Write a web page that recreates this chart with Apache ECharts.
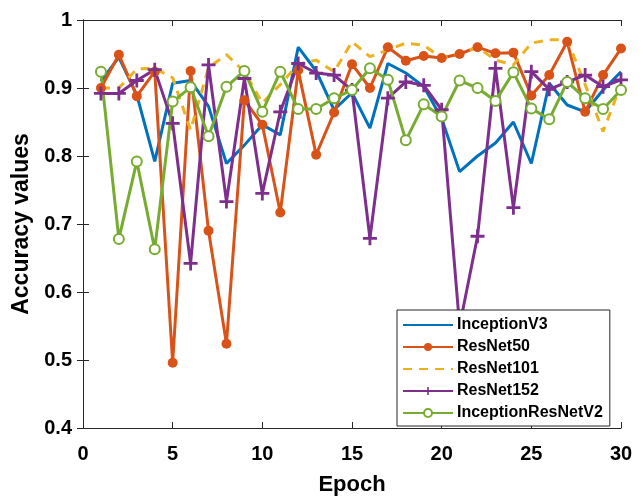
<!DOCTYPE html>
<html lang="en">
<head>
    <meta charset="UTF-8">
    <title>Accuracy per epoch</title>
    <script src="https://cdn.jsdelivr.net/npm/echarts@6/dist/echarts.min.js"></script>
    <style>
        html, body { margin: 0; padding: 0; background: #fff; }
        #main { width: 643px; height: 497px; }
    </style>
</head>
<body>
    <div id="main"></div>
    <script>
        // data
        var epochs = [1, 2, 3, 4, 5, 6, 7, 8, 9, 10, 11, 12, 13, 14, 15, 16, 17, 18, 19, 20, 21, 22, 23, 24, 25, 26, 27, 28, 29, 30];
        var inceptionV3 = [0.91, 0.945, 0.89, 0.792, 0.907, 0.911, 0.873, 0.789, 0.816, 0.846, 0.831, 0.96, 0.925, 0.868, 0.893, 0.841, 0.936, 0.922, 0.902, 0.855, 0.777, 0.80, 0.819, 0.85, 0.789, 0.907, 0.875, 0.865, 0.897, 0.924];
        var resNet50 = [0.9, 0.949, 0.888, 0.924, 0.496, 0.925, 0.690, 0.524, 0.882, 0.846, 0.717, 0.926, 0.802, 0.864, 0.935, 0.9, 0.96, 0.94, 0.947, 0.944, 0.95, 0.96, 0.951, 0.952, 0.889, 0.919, 0.968, 0.865, 0.919, 0.958];
        var resNet101 = [0.9, 0.9, 0.928, 0.929, 0.915, 0.838, 0.93, 0.949, 0.924, 0.878, 0.905, 0.935, 0.941, 0.924, 0.968, 0.946, 0.956, 0.966, 0.963, 0.944, 0.951, 0.96, 0.941, 0.934, 0.966, 0.971, 0.971, 0.905, 0.836, 0.905];
        var resNet152 = [0.892, 0.892, 0.911, 0.927, 0.848, 0.642, 0.934, 0.733, 0.914, 0.745, 0.865, 0.936, 0.922, 0.919, 0.897, 0.679, 0.885, 0.909, 0.904, 0.868, 0.55, 0.682, 0.929, 0.724, 0.924, 0.898, 0.909, 0.919, 0.902, 0.912];
        var inceptionResNetV2 = [0.924, 0.678, 0.792, 0.663, 0.880, 0.901, 0.829, 0.902, 0.925, 0.865, 0.924, 0.869, 0.869, 0.885, 0.897, 0.929, 0.912, 0.823, 0.876, 0.858, 0.911, 0.90, 0.881, 0.923, 0.870, 0.854, 0.909, 0.885, 0.869, 0.897];
        var seriesNames = ['InceptionV3', 'ResNet50', 'ResNet101', 'ResNet152', 'InceptionResNetV2'];

        var fontFam = '"Liberation Sans", Arial, Helvetica, sans-serif';
        var axisColor = '#262626';
        var plusPath = 'path://M4,0 H6 V4 H10 V6 H6 V10 H4 V6 H0 V4 H4 Z';

        function pairs(values) {
            return epochs.map(function (e, i) {
                return [e, values[i]];
            });
        }

        var myChart = echarts.init(document.getElementById('main'), null, { renderer: 'canvas' });

        // top / right axes only close the box
        var boxAxis = {
            axisLine: { show: true, lineStyle: { color: axisColor, width: 1 } },
            axisTick: { show: true, inside: true, length: 6, lineStyle: { color: axisColor } },
            axisLabel: { show: false },
            splitLine: { show: false }
        };

        var option = {
            animation: false,
            backgroundColor: '#fff',
            grid: { left: 83, right: 22, top: 20, bottom: 69, outerBoundsMode: 'none' },
            xAxis: [{
                type: 'value',
                min: 0,
                max: 30,
                interval: 5,
                name: 'Epoch',
                nameLocation: 'middle',
                nameGap: 46,
                nameTextStyle: { fontFamily: fontFam, fontWeight: 'bold', fontSize: 22, color: '#000' },
                axisLine: { show: true, onZero: false, lineStyle: { color: axisColor, width: 1 } },
                axisTick: { show: true, inside: true, length: 6, lineStyle: { color: axisColor } },
                axisLabel: { fontFamily: fontFam, fontWeight: 'bold', fontSize: 20, color: '#000', margin: 16 },
                splitLine: { show: false }
            }, Object.assign({ type: 'value', position: 'top', min: 0, max: 30, interval: 5 }, boxAxis)],
            yAxis: [{
                type: 'value',
                min: 0.4,
                max: 1,
                interval: 0.1,
                name: 'Accuracy values',
                nameLocation: 'middle',
                nameGap: 46,
                nameTextStyle: { fontFamily: fontFam, fontWeight: 'bold', fontSize: 23, color: '#000' },
                axisLine: { show: true, onZero: false, lineStyle: { color: axisColor, width: 1 } },
                axisTick: { show: true, inside: true, length: 6, lineStyle: { color: axisColor } },
                axisLabel: {
                    fontFamily: fontFam, fontWeight: 'bold', fontSize: 20, color: '#000', margin: 11,
                    formatter: function (v) { return String(parseFloat(v.toFixed(1))); }
                },
                splitLine: { show: false }
            }, Object.assign({ type: 'value', position: 'right', min: 0.4, max: 1, interval: 0.1 }, boxAxis)],
            legend: {
                orient: 'vertical',
                left: 397,
                top: 310,
                itemWidth: 50,
                itemHeight: 10,
                itemGap: 6,
                padding: [7, 7, 5, 5],
                backgroundColor: '#fff',
                borderColor: '#262626',
                borderWidth: 1,
                borderRadius: 0,
                textStyle: { fontFamily: fontFam, fontWeight: 'bold', fontSize: 16, color: '#000', padding: [0, 0, 0, -1] },
                data: [
                    { name: seriesNames[0], itemStyle: { opacity: 0 } },
                    { name: seriesNames[1] },
                    { name: seriesNames[2], itemStyle: { opacity: 0 } },
                    { name: seriesNames[3] },
                    { name: seriesNames[4] }
                ],
                z: 10
            },
            series: [{
                name: seriesNames[0],
                type: 'line',
                data: pairs(inceptionV3),
                symbol: 'none',
                itemStyle: { color: '#0072BD' },
                lineStyle: { width: 3, color: '#0072BD' }
            }, {
                name: seriesNames[1],
                type: 'line',
                data: pairs(resNet50),
                symbol: 'circle',
                symbolSize: 10,
                itemStyle: { color: '#D95319' },
                lineStyle: { width: 3, color: '#D95319' }
            }, {
                name: seriesNames[2],
                type: 'line',
                data: pairs(resNet101),
                symbol: 'none',
                itemStyle: { color: '#EDB120' },
                lineStyle: { width: 3, color: '#EDB120', type: [9, 7] }
            }, {
                name: seriesNames[3],
                type: 'line',
                data: pairs(resNet152),
                symbol: plusPath,
                symbolSize: 14,
                itemStyle: { color: '#7E2F8E' },
                lineStyle: { width: 3, color: '#7E2F8E' }
            }, {
                name: seriesNames[4],
                type: 'line',
                data: pairs(inceptionResNetV2),
                symbol: 'emptyCircle',
                symbolSize: 10,
                itemStyle: { color: '#77AC30', borderColor: '#77AC30', borderWidth: 3 },
                lineStyle: { width: 3, color: '#77AC30' }
            }]
        };

        myChart.setOption(option);
    </script>
</body>
</html>
